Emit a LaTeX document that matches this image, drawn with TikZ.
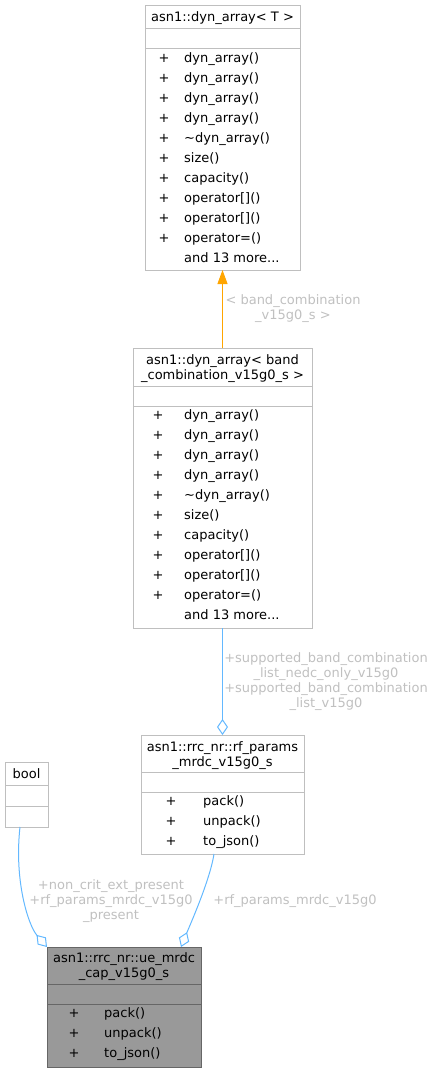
\documentclass[tikz,border=0pt]{standalone}
\usepackage{fontspec}
\setmainfont{DejaVu Sans}
\usetikzlibrary{arrows.meta}
\definecolor{boxgray}{HTML}{BFBFBF}
\definecolor{mainfill}{HTML}{999999}
\definecolor{mainborder}{HTML}{666666}
\definecolor{edgeblue}{HTML}{63B8FF}
\definecolor{edgeorange}{HTML}{FFA500}
\definecolor{lblgray}{HTML}{C0C0C0}
\begin{document}
\begin{tikzpicture}[x=1pt,y=-1pt,
  box/.style={draw=boxgray,line width=1pt,fill=white,inner sep=0pt,outer sep=0pt},
  mainbox/.style={draw=mainborder,line width=1pt,fill=mainfill,inner sep=0pt,outer sep=0pt},
  sepline/.style={draw=boxgray,line width=1pt},
  mainsep/.style={draw=mainborder,line width=1pt},
  txt/.style={inner sep=0pt,anchor=base,font=\fontsize{13}{15}\selectfont},
  lbl/.style={inner sep=0pt,anchor=base,align=center,text=lblgray,font=\fontsize{13}{15}\selectfont},
  assoc/.style={draw=edgeblue,line width=1pt},
  aggr/.style={{Diamond[open,length=16pt,width=11pt]}-},
  inherit/.style={draw=edgeorange,line width=1pt,-{Triangle[length=14pt,width=10pt,fill=edgeorange]}}
]
\useasboundingbox (0,0) rectangle (436,1072);

% ---------- asn1::dyn_array< T >
\node[box,minimum width=155pt,minimum height=265pt] (dynT) at (222.5,137.5) {};
\draw[sepline] (145,28) -- (300,28);
\draw[sepline] (145,48) -- (300,48);
\node[txt] (dynTh) at (222.5,21.5) {asn1::dyn\_array< T >};
\foreach \t [count=\i from 0] in {dyn\_array(),dyn\_array(),dyn\_array(),dyn\_array(),\textasciitilde dyn\_array(),size(),capacity(),operator[](),operator[](),operator=()}{
  \node[txt] at (164,62.5+20*\i) {+};
  \node[txt,anchor=base west] at (184,62.5+20*\i) {\t};
}
\node[txt,anchor=base west] at (184,262.5) {and 13 more...};

% ---------- asn1::dyn_array< band_combination_v15g0_s >
\node[box,minimum width=179pt,minimum height=280pt] (dynB) at (222.5,488) {};
\draw[sepline] (133,386) -- (312,386);
\draw[sepline] (133,406) -- (312,406);
\node[txt] at (222.5,364.5) {asn1::dyn\_array< band};
\node[txt] at (222.5,379.5) {\_combination\_v15g0\_s >};
\foreach \t [count=\i from 0] in {dyn\_array(),dyn\_array(),dyn\_array(),dyn\_array(),\textasciitilde dyn\_array(),size(),capacity(),operator[](),operator[](),operator=()}{
  \node[txt] at (158,419.5+20*\i) {+};
  \node[txt,anchor=base west] at (184,419.5+20*\i) {\t};
}
\node[txt,anchor=base west] at (184,619) {and 13 more...};

% ---------- asn1::rrc_nr::rf_params_mrdc_v15g0_s
\node[box,minimum width=163pt,minimum height=119pt] (rf) at (222.5,794.5) {};
\draw[sepline] (141,772) -- (304,772);
\draw[sepline] (141,792) -- (304,792);
\node[txt] at (222.5,751.5) {asn1::rrc\_nr::rf\_params};
\node[txt] at (222.5,766) {\_mrdc\_v15g0\_s};
\foreach \t [count=\i from 0] in {pack(),unpack(),to\_json()}{
  \node[txt] at (171,805.5+20*\i) {+};
  \node[txt,anchor=base west] at (203,805.5+20*\i) {\t};
}

% ---------- bool
\node[box,minimum width=43pt,minimum height=65pt] (bool) at (26.5,794.5) {};
\draw[sepline] (5,785) -- (48,785);
\draw[sepline] (5,806) -- (48,806);
\node[txt] at (26.5,778.5) {bool};

% ---------- asn1::rrc_nr::ue_mrdc_cap_v15g0_s
\node[mainbox,minimum width=154pt,minimum height=120pt] (ue) at (124,1007) {};
\draw[mainsep] (47,984) -- (201,984);
\draw[mainsep] (47,1004) -- (201,1004);
\node[txt] at (124,962.5) {asn1::rrc\_nr::ue\_mrdc};
\node[txt] at (124,977.5) {\_cap\_v15g0\_s};
\foreach \t [count=\i from 0] in {pack(),unpack(),to\_json()}{
  \node[txt] at (74,1017.5+20*\i) {+};
  \node[txt,anchor=base west] at (104,1017.5+20*\i) {\t};
}

% ---------- connectors
\draw[inherit] (dynB.north) -- (dynT.south);
\node[lbl] at (293,319.5) {< band\_combination\\\_v15g0\_s >};

\draw[assoc,aggr] (rf.north) -- (dynB.south);
\node[lbl] at (326,707.5) {+supported\_band\_combination\\\_list\_nedc\_only\_v15g0\\+supported\_band\_combination\\\_list\_v15g0};

\draw[assoc,aggr] (ue.north west) .. controls (28,925) and (14,880) .. ([xshift=-6.5pt]bool.south);
\node[lbl] at (111,919.5) {+non\_crit\_ext\_present\\+rf\_params\_mrdc\_v15g0\\\_present};

\draw[assoc,aggr] ([xshift=-20pt]ue.north east) .. controls (190,925) and (210,880) .. ([xshift=-8.5pt]rf.south);
\node[lbl] at (295,904.5) {+rf\_params\_mrdc\_v15g0};
\end{tikzpicture}
\end{document}
